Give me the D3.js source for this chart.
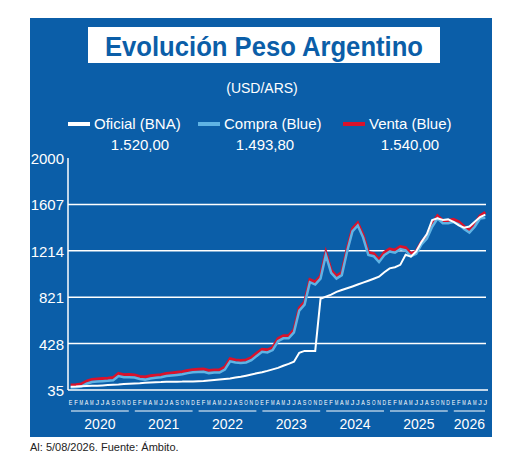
<!DOCTYPE html><html><head><meta charset="utf-8"><script src="https://cdn.jsdelivr.net/npm/d3@7"></script>
<style>body{margin:0;background:#fff}</style></head><body><svg id="c" width="520" height="456"></svg>
<script>
const months=["E","F","M","A","M","J","J","A","S","O","N","D"];
const years=["2020","2021","2022","2023","2024","2025","2026"];
const yTicks=[35,428,821,1214,1607,2000];
const oficial=[63,64,66,68,70,72,74,77,80,82,85,88,91,93,96,99,101,102,104,104,105,106,108,108,110,112,116,120,124,128,133,140,147,156,166,177,186,197,210,222,240,256,275,350,366,366,366,808,826,843,866,882,897,912,928,944,960,977,995,1032,1065,1075,1095,1180,1165,1210,1290,1355,1475,1490,1475,1480,1460,1430,1410,1420,1460,1500,1520];
const venta=[78,80,86,110,125,128,132,135,140,175,165,166,162,150,145,155,160,165,175,180,185,190,200,207,210,212,200,205,205,230,300,290,285,290,310,346,380,375,395,470,495,495,545,730,780,970,950,1000,1200,1050,1000,1030,1230,1400,1450,1350,1200,1190,1140,1200,1230,1220,1250,1240,1190,1210,1290,1340,1440,1510,1470,1470,1480,1460,1420,1390,1440,1510,1540];
const compra=venta.map((v,i)=>i===venta.length-1?1493.8:v-22);
const svg=d3.select("#c");
svg.append("rect").attr("x",30).attr("y",18).attr("width",462).attr("height",419).attr("fill","#0b5ea8");
svg.append("rect").attr("x",88).attr("y",27).attr("width",352).attr("height",36).attr("fill","#fff");
svg.append("text").attr("x",264).attr("y",56).attr("text-anchor","middle").attr("font-family","Liberation Sans Narrow, Liberation Sans").attr("font-weight","bold").attr("font-size",28).attr("textLength",318).attr("lengthAdjust","spacingAndGlyphs").attr("fill","#0b5ea8").text("Evolución Peso Argentino");
svg.append("text").attr("x",262).attr("y",93).attr("text-anchor","middle").attr("font-family","Liberation Sans").attr("font-size",14).attr("fill","#fff").text("(USD/ARS)");
const leg=[["Oficial (BNA)","#fff",68,"1.520,00",140],["Compra (Blue)","#5fb3e4",198,"1.493,80",265],["Venta (Blue)","#d9122b",343,"1.540,00",410]];
leg.forEach(l=>{svg.append("line").attr("x1",l[2]).attr("x2",l[2]+22).attr("y1",124).attr("y2",124).attr("stroke",l[1]).attr("stroke-width",4);
svg.append("text").attr("x",l[2]+26).attr("y",129).attr("font-family","Liberation Sans").attr("font-size",15).attr("fill","#fff").text(l[0]);
svg.append("text").attr("x",l[4]).attr("y",150).attr("text-anchor","middle").attr("font-family","Liberation Sans").attr("font-size",15).attr("fill","#fff").text(l[3]);});
const x=d3.scaleLinear().domain([0,79]).range([68,488]);
const y=d3.scaleLinear().domain([35,2000]).range([390,158]);
yTicks.forEach(t=>{if(t>35&&t<2000)svg.append("line").attr("x1",68).attr("x2",486).attr("y1",y(t)).attr("y2",y(t)).attr("stroke","#fff").attr("stroke-width",1.5);
svg.append("text").attr("x",64).attr("y",y(t)+6).attr("text-anchor","end").attr("font-family","Liberation Sans").attr("font-size",15).attr("fill","#fff").text(t);});
svg.append("line").attr("x1",68).attr("x2",68).attr("y1",158).attr("y2",390).attr("stroke","#fff").attr("stroke-width",1.5);
svg.append("line").attr("x1",68).attr("x2",488).attr("y1",390).attr("y2",390).attr("stroke","#fff").attr("stroke-width",1.5);
const line=d3.line().x((d,i)=>x(i+0.5)).y(d=>y(d));
svg.append("path").attr("d",line(venta)).attr("fill","none").attr("stroke","#d9122b").attr("stroke-width",3);
svg.append("path").attr("d",line(compra)).attr("fill","none").attr("stroke","#5fb3e4").attr("stroke-width",2.5);
svg.append("path").attr("d",line(oficial)).attr("fill","none").attr("stroke","#fff").attr("stroke-width",2);
d3.range(79).forEach(i=>svg.append("text").attr("x",x(i+0.5)).attr("y",405).attr("text-anchor","middle").attr("font-family","Liberation Sans").attr("font-size",8).attr("textLength",3.6).attr("lengthAdjust","spacingAndGlyphs").attr("fill","#fff").text(months[i%12]));
years.forEach((yr,k)=>{const a=k*12,b=Math.min(79,a+12);
svg.append("line").attr("x1",x(a)+3).attr("x2",x(b)-3).attr("y1",411).attr("y2",411).attr("stroke","#fff");
svg.append("text").attr("x",(x(a)+x(b))/2).attr("y",429).attr("text-anchor","middle").attr("font-family","Liberation Sans Narrow, Liberation Sans").attr("font-size",14).attr("fill","#fff").text(yr);});
svg.append("text").attr("x",30).attr("y",451).attr("font-family","Liberation Sans").attr("font-size",11).attr("fill","#222").text("Al: 5/08/2026. Fuente: Ámbito.");
</script></body></html>
